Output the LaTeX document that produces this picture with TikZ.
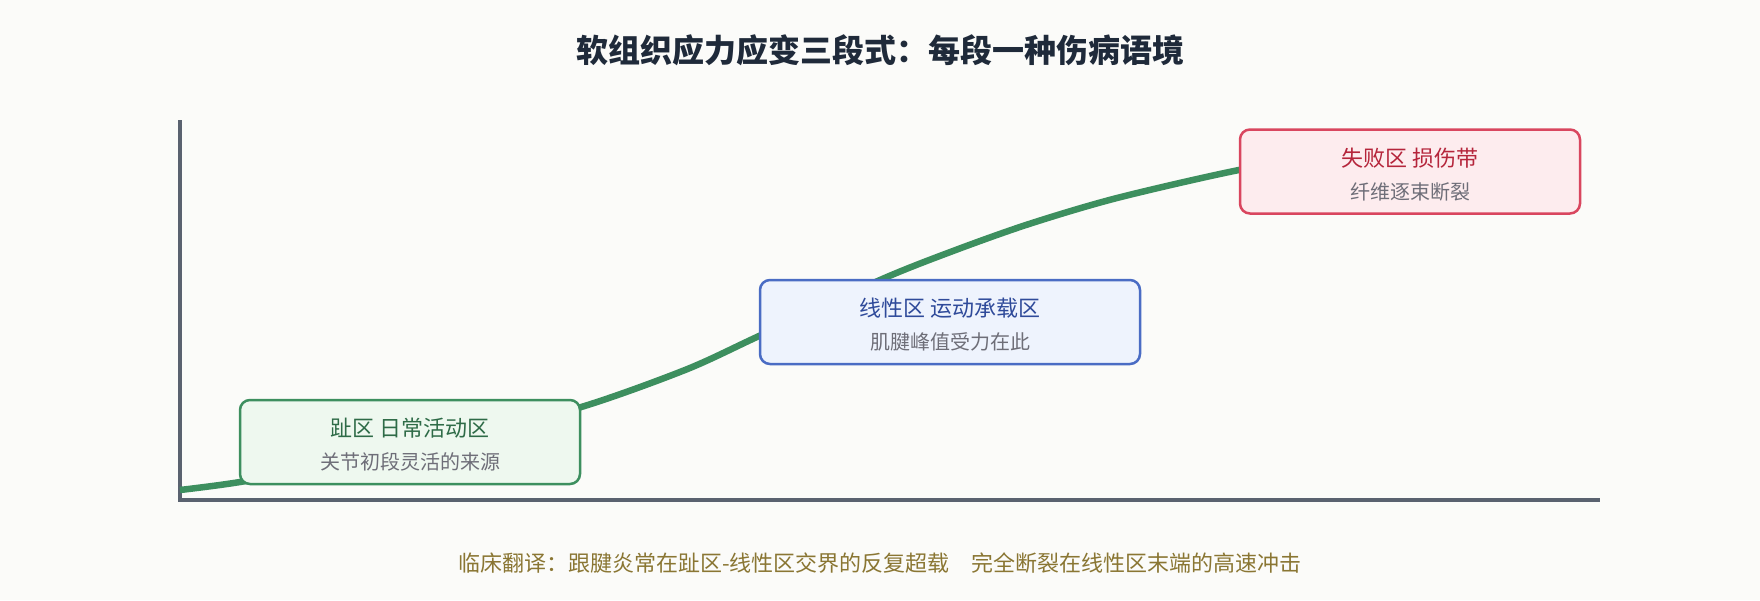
\documentclass[tikz,border=0pt]{standalone}
\usepackage{fontspec}
\setmainfont{Noto Sans CJK SC}
\usetikzlibrary{positioning}
\definecolor{bgc}{HTML}{FBFBF9}
\definecolor{axisc}{HTML}{5A6270}
\definecolor{titlec}{HTML}{1F2A3A}
\definecolor{curvec}{HTML}{3D8F5F}
\definecolor{toeD}{HTML}{2E6B47}
\definecolor{toeF}{HTML}{EEF8EF}
\definecolor{linB}{HTML}{4A6CC4}
\definecolor{linD}{HTML}{2F4A9A}
\definecolor{linF}{HTML}{EEF3FD}
\definecolor{failB}{HTML}{D9465F}
\definecolor{failD}{HTML}{B5253B}
\definecolor{failF}{HTML}{FDECEE}
\definecolor{subc}{HTML}{6E6E78}
\definecolor{notec}{HTML}{8A7633}
\tikzset{
	zone/.style={draw=#1, line width=2.5pt, rounded corners=10pt, minimum width=340pt, minimum height=84pt, inner sep=0pt},
	zonetitle/.style={text=#1, font=\fontsize{22}{26}\selectfont, inner sep=0pt},
	zonesub/.style={text=subc, font=\fontsize{20}{24}\selectfont, inner sep=0pt}
}
\begin{document}
\begin{tikzpicture}[x=1pt, y=-1pt]
	\fill[bgc] (0,0) rectangle (1760,600);
	\node[text=titlec, font=\bfseries\fontsize{32}{38}\selectfont] (title) at (880,50) {软组织应力应变三段式：每段一种伤病语境};

	\draw[axisc, line width=3.5pt] (180,120) -- (180,502);
	\draw[axisc, line width=4pt] (178,500) -- (1600,500);
	\draw[curvec, line width=6.5pt] plot[smooth, tension=0.5] coordinates {(180,490) (240,482) (330,465) (450,440) (578,408) (685,370) (759,336) (880,280) (953,251) (1029,224) (1117,198) (1239,170) (1320,158)};

	\node[zone=curvec, fill=toeF] (toe) at (410,442) {};
	\node[zonetitle=toeD] (toeT) at ([yshift=14pt]toe.center) {趾区 日常活动区};
	\node[zonesub] (toeS) at ([yshift=-20pt]toe.center) {关节初段灵活的来源};

	\node[zone=linB, fill=linF, minimum width=380pt] (lin) at (950,322) {};
	\node[zonetitle=linD] (linT) at ([yshift=14pt]lin.center) {线性区 运动承载区};
	\node[zonesub] (linS) at ([yshift=-20pt]lin.center) {肌腱峰值受力在此};

	\node[zone=failB, fill=failF] (fail) at (1410,171.5) {};
	\node[zonetitle=failD] (failT) at ([yshift=13pt]fail.center) {失败区 损伤带};
	\node[zonesub] (failS) at ([yshift=-20pt]fail.center) {纤维逐束断裂};

	\node[text=notec, font=\fontsize{22}{26}\selectfont] (note) at (880,563) {临床翻译：跟腱炎常在趾区-线性区交界的反复超载\quad 完全断裂在线性区末端的高速冲击};
\end{tikzpicture}
\end{document}
